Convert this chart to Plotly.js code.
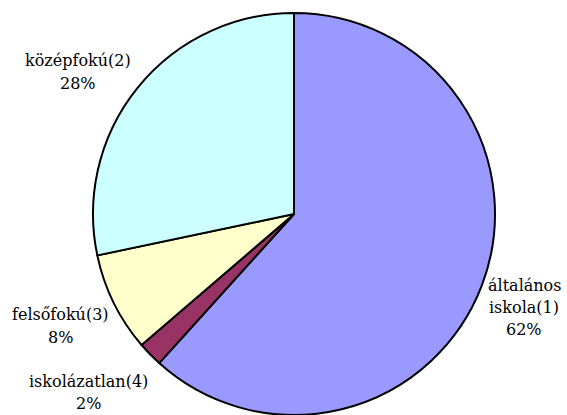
<!DOCTYPE html>
<html>
<head>
<meta charset="utf-8">
<script src="https://cdn.plot.ly/plotly-3.0.1.min.js"></script>
<style>html,body{margin:0;padding:0;background:#fff;}#chart{width:567px;height:415px;}</style>
</head>
<body>
<div id="chart"></div>
<script>
const categories = ["általános iskola(1)", "iskolázatlan(4)", "felsőfokú(3)", "középfokú(2)"];
const labelLines = [["általános", "iskola(1)"], ["iskolázatlan(4)"], ["felsőfokú(3)"], ["középfokú(2)"]];
const values = [61.7, 2.0, 8.0, 28.3];
const colors = ["#9999FF", "#993366", "#FFFFCC", "#CCFFFF"];
const labelPos = [[524, 304], [88, 392], [60, 323], [78, 61]];

const total = values.reduce((a, b) => a + b, 0);
const W = 567, H = 415;
const FONT = "DejaVu Serif";
const LINE = 23;
const annotations = [];
categories.forEach((c, i) => {
  const lines = labelLines[i].concat([Math.round(values[i] / total * 100) + "%"]);
  const top = labelPos[i][1] - (lines.length - 1) * LINE / 2;
  lines.forEach((t, k) => {
    annotations.push({
      text: t,
      xref: "paper", yref: "paper",
      x: labelPos[i][0] / W, y: 1 - (top + k * LINE) / H,
      xanchor: "center", yanchor: "middle",
      showarrow: false, align: "center",
      font: {family: FONT, size: 16, color: "#000000"}
    });
  });
});

const trace = {
  type: "pie",
  labels: categories,
  values: values,
  sort: false,
  direction: "clockwise",
  rotation: 0,
  textinfo: "none",
  hoverinfo: "none",
  marker: {colors: colors, line: {color: "#000000", width: 2}},
  domain: {x: [92 / W, 496 / W], y: [0, 1]},
  showlegend: false
};

Plotly.newPlot("chart", [trace], {
  width: W, height: H,
  margin: {l: 0, r: 0, t: 13, b: 0, autoexpand: false},
  paper_bgcolor: "#ffffff",
  font: {family: FONT, size: 16},
  showlegend: false,
  annotations: annotations
}, {staticPlot: true});
</script>
</body>
</html>
